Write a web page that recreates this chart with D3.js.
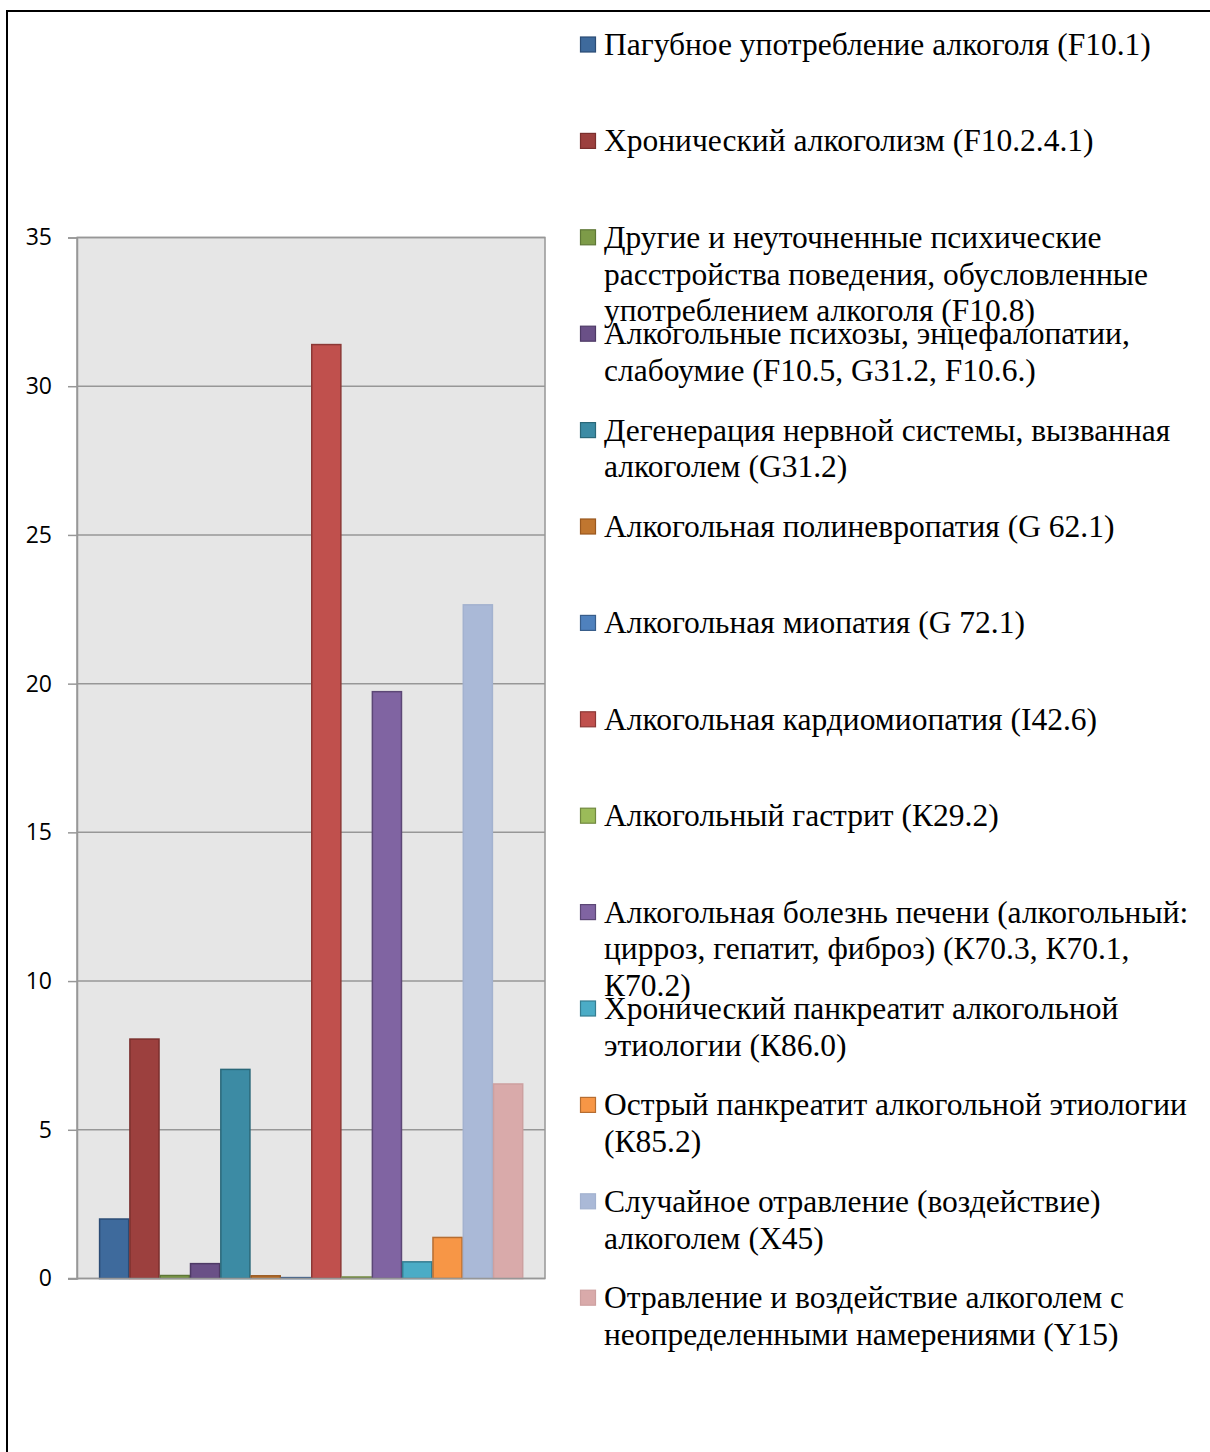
<!DOCTYPE html>
<html>
<head>
<meta charset="utf-8">
<script src="https://cdn.jsdelivr.net/npm/d3@7"></script>
<style>
  body { margin: 0; background: #fff; }
</style>
</head>
<body>
<script>
// Series names (legend), values and colours
const seriesNames = [
    "Пагубное употребление алкоголя (F10.1)",
    "Хронический алкоголизм (F10.2.4.1)",
    "Другие и неуточненные психические|расстройства поведения, обусловленные|употреблением алкоголя (F10.8)",
    "Алкогольные психозы, энцефалопатии,|слабоумие (F10.5, G31.2, F10.6.)",
    "Дегенерация нервной системы, вызванная|алкоголем (G31.2)",
    "Алкогольная полиневропатия (G 62.1)",
    "Алкогольная миопатия (G 72.1)",
    "Алкогольная кардиомиопатия (I42.6)",
    "Алкогольный гастрит (К29.2)",
    "Алкогольная болезнь печени (алкогольный:|цирроз, гепатит, фиброз) (К70.3, К70.1,|К70.2)",
    "Хронический панкреатит алкогольной|этиологии (К86.0)",
    "Острый панкреатит алкогольной этиологии|(К85.2)",
    "Случайное отравление (воздействие)|алкоголем (X45)",
    "Отравление и воздействие алкоголем с|неопределенными намерениями (Y15)"
];
const seriesValues = [2.0, 8.05, 0.1, 0.5, 7.03, 0.09, 0.03, 31.4, 0.05, 19.73, 0.56, 1.38, 22.65, 6.54];
const fillColors = ["#3E6A9C", "#9C403E", "#7D9B48", "#6A5087", "#3C8BA4", "#C0762F", "#4F81BD",
    "#C0504D", "#9BBB59", "#8064A2", "#4BACC6", "#F79646", "#AAB9D7", "#D9AAAA"];
const strokeColors = ["#2B4C75", "#7A2F2D", "#5E7736", "#4E3A66", "#2A6879", "#99581F", "#385D8A",
    "#8C3836", "#71893F", "#5C4776", "#357D91", "#B66D31", "#A3B2CF", "#CDA0A0"];
const yTicks = [0, 5, 10, 15, 20, 25, 30, 35];

const width = 1210, height = 1452;
const plot = { left: 77, right: 545, top: 237.5, bottom: 1278.5 };

const svg = d3.select("body").append("svg")
    .attr("width", width)
    .attr("height", height)
    .attr("viewBox", [0, 0, width, height]);

// outer frame (only left and top edges visible)
svg.append("path")
    .attr("d", `M7,${height} V11 H${width}`)
    .attr("fill", "none")
    .attr("stroke", "#000")
    .attr("stroke-width", 2);

// Scales
const y = d3.scaleLinear().domain([0, 35]).range([plot.bottom, plot.top]);
const x = d3.scaleBand()
    .domain(d3.range(seriesValues.length))
    .range([plot.left + 22, plot.right - 21.7])
    .padding(0);

// Plot background
svg.append("rect")
    .attr("x", plot.left)
    .attr("y", plot.top)
    .attr("width", plot.right - plot.left)
    .attr("height", plot.bottom - plot.top)
    .attr("fill", "#E6E6E6")
    .attr("stroke", "#979797")
    .attr("stroke-width", 1.5);

// Gridlines + ticks via axis
const yAxis = svg.append("g")
    .attr("transform", `translate(${plot.left},0)`)
    .call(d3.axisLeft(y).tickValues(yTicks).tickSize(9).tickPadding(16).tickFormat(d3.format("d")));
yAxis.select(".domain").attr("stroke", "#979797").attr("stroke-width", 1.5);
yAxis.selectAll(".tick line").attr("stroke", "#979797").attr("stroke-width", 1.5);
yAxis.selectAll(".tick text")
    .attr("fill", "#000")
    .style("font-family", "'Open Sans', 'Liberation Sans', sans-serif")
    .style("font-size", "23px");

svg.append("g")
    .selectAll("line")
    .data(yTicks.slice(1))
    .join("line")
    .attr("x1", plot.left)
    .attr("x2", plot.right)
    .attr("y1", d => y(d))
    .attr("y2", d => y(d))
    .attr("stroke", "#979797")
    .attr("stroke-width", 1.5);

// Bars
svg.append("g")
    .selectAll("rect")
    .data(seriesValues)
    .join("rect")
    .attr("x", (d, i) => x(i) + 0.6)
    .attr("width", x.bandwidth() - 1.2)
    .attr("y", d => y(d))
    .attr("height", d => y(0) - y(d))
    .attr("fill", (d, i) => fillColors[i])
    .attr("stroke", (d, i) => strokeColors[i])
    .attr("stroke-width", 1.5);

// redraw the zero axis line over bars
svg.append("line")
    .attr("x1", plot.left - 9)
    .attr("x2", plot.right)
    .attr("y1", y(0))
    .attr("y2", y(0))
    .attr("stroke", "#979797")
    .attr("stroke-width", 1.5);

// Legend
const legendTop = 45, legendStep = 96.4, lineHeight = 36.8;
const legend = svg.append("g");
seriesNames.forEach((name, i) => {
    const cy = legendTop + i * legendStep;
    legend.append("rect")
        .attr("x", 580.5)
        .attr("y", cy - 8)
        .attr("width", 15)
        .attr("height", 15)
        .attr("fill", fillColors[i])
        .attr("stroke", strokeColors[i])
        .attr("stroke-width", 1.2);
    const lines = name.split("|");
    const t = legend.append("text")
        .attr("x", 604)
        .attr("y", cy + 10)
        .style("font-family", "'Liberation Serif', 'Times New Roman', serif")
        .style("font-size", "31.5px")
        .attr("fill", "#000");
    lines.forEach((ln, j) => {
        t.append("tspan")
            .attr("x", 604)
            .attr("dy", j === 0 ? 0 : lineHeight)
            .text(ln);
    });
});
</script>
</body>
</html>
